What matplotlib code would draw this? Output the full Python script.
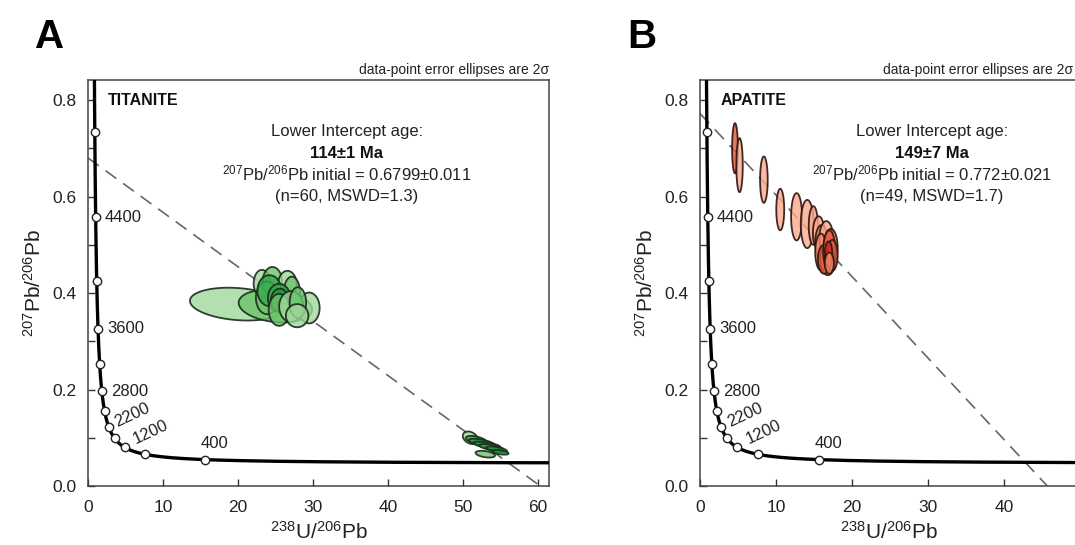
import numpy as np
import matplotlib
matplotlib.use("Agg")
import matplotlib.pyplot as plt
from matplotlib.patches import Polygon
from matplotlib.colors import to_rgba
from matplotlib.ticker import MultipleLocator

plt.rcParams['font.family'] = ['Liberation Sans', 'DejaVu Sans']
plt.rcParams['mathtext.fontset'] = 'custom'
plt.rcParams['mathtext.rm'] = 'Liberation Sans'
plt.rcParams['mathtext.it'] = 'Liberation Sans:italic'
plt.rcParams['mathtext.bf'] = 'Liberation Sans:bold'

# decay constants
L238 = 1.55125e-10
L235 = 9.8485e-10
U85 = 137.88

# concordia age marks (Ma)
marks = [400, 800, 1200, 1600, 2000, 2400, 2800, 3200, 3600, 4000, 4400, 4800]

# titanite ellipses: x, 2s-x, y, 2s-y, rho, shade
A_x = [20.0, 25.0, 29.5, 23.2, 24.6, 26.6, 27.2, 23.9, 24.2, 25.5, 25.6, 25.5, 27.1, 28.0, 27.9,
       51.0, 51.8, 52.5, 53.2, 53.8, 54.5, 53.0, 55.0]
A_sx = [6.4, 4.9, 1.4, 1.1, 1.3, 1.25, 1.1, 1.5, 1.6, 1.5, 1.2, 1.4, 1.6, 1.1, 1.5,
        1.0, 1.4, 1.7, 1.8, 1.6, 1.4, 1.3, 1.1]
A_y = [0.377, 0.373, 0.369, 0.420, 0.423, 0.417, 0.400, 0.390, 0.405, 0.390, 0.385, 0.365, 0.372, 0.380, 0.353,
       0.100, 0.095, 0.090, 0.085, 0.080, 0.076, 0.066, 0.070]
A_sy = [0.034, 0.034, 0.032, 0.028, 0.031, 0.029, 0.034, 0.034, 0.032, 0.029, 0.024, 0.033, 0.032, 0.032, 0.024,
        0.013, 0.009, 0.008, 0.007, 0.007, 0.006, 0.007, 0.005]
A_rho = [-0.2, -0.2, 0, 0, 0, 0, 0, 0, 0, 0, 0, 0, 0, 0, 0,
         -0.3, -0.5, -0.6, -0.6, -0.6, -0.6, -0.4, -0.5]
A_shade = [0, 1, 0, 0, 1, 0, 1, 1, 2, 2, 3, 1, 0, 1, 0,
           0, 2, 3, 3, 2, 3, 1, 3]

# apatite ellipses
B_x = [4.6, 5.2, 8.4, 10.55, 12.7, 14.1, 14.9, 15.6, 16.0, 16.6, 15.9, 16.8, 17.2, 16.3, 17.0, 17.4, 16.9, 17.0]
B_sx = [0.38, 0.42, 0.5, 0.52, 0.72, 0.85, 0.6, 0.75, 0.85, 0.9, 0.75, 1.0, 0.9, 0.8, 0.8, 0.7, 0.5, 0.6]
B_y = [0.700, 0.665, 0.635, 0.573, 0.558, 0.543, 0.540, 0.525, 0.505, 0.515, 0.485, 0.470, 0.495, 0.470, 0.488,
       0.478, 0.480, 0.462]
B_sy = [0.052, 0.056, 0.048, 0.043, 0.049, 0.050, 0.040, 0.034, 0.036, 0.034, 0.038, 0.033, 0.038, 0.030, 0.042,
        0.032, 0.027, 0.022]
B_rho = [0] * 18
B_shade = [2, 0, 0, 0, 0, 0, 0, 0, 1, 0, 1, 1, 1, 2, 2, 2, 3, 1]

green = ['#9fd99a', '#6cc46a', '#35a94a', '#179a3c']
red = ['#f9a98c', '#f58a68', '#e5553a', '#d2301e']


def concordia(t):
    t = np.asarray(t) * 1e6
    e8 = np.exp(L238 * t) - 1
    e5 = np.exp(L235 * t) - 1
    return 1 / e8, e5 / e8 / U85


def draw_ellipses(ax, xs, sxs, ys, sys_, rhos, shades, cols, edge):
    th = np.linspace(0, 2 * np.pi, 100)
    for x, sx, y, sy, r, s in zip(xs, sxs, ys, sys_, rhos, shades):
        px = x + sx * np.cos(th)
        py = y + sy * (r * np.cos(th) + np.sqrt(1 - r ** 2) * np.sin(th))
        ax.add_patch(Polygon(np.column_stack([px, py]), closed=True, facecolor=to_rgba(cols[s], 0.8),
                             edgecolor=to_rgba(edge, 0.9), lw=1.3, zorder=3))


def panel(ax, xmax, name, age, y0, age_txt, r0_txt, n_txt, xs, sxs, ys, sys_, rhos, shades, cols, edge, tx, note_x):
    # discordia
    ix, iy = concordia(age)
    slope = (iy - y0) / ix
    xe = -y0 / slope
    ax.plot([0, xe], [y0, 0], ls=(0, (8, 5)), color='#666666', lw=1.2, zorder=2)
    draw_ellipses(ax, xs, sxs, ys, sys_, rhos, shades, cols, edge)
    # concordia curve
    t = np.linspace(40, 5200, 2000)
    cx, cy = concordia(t)
    ax.plot(cx, cy, color='black', lw=2.4, zorder=4)
    mx, my = concordia(marks)
    ax.plot(mx, my, 'o', ms=6, mfc='white', mec='#222222', mew=1, zorder=5)
    for m in [4400, 3600, 2800]:
        a, b = concordia(m)
        ax.text(a + 1.2, b, str(m), fontsize=12, va='center', ha='left', color='#222222', zorder=6)
    ax.text(5.9, 0.147, '2200', fontsize=12, rotation=25, ha='center', va='center', color='#222222')
    ax.text(8.4, 0.112, '1200', fontsize=12, rotation=25, ha='center', va='center', color='#222222')
    ax.text(16.9, 0.088, '400', fontsize=12, ha='center', va='center', color='#222222')

    ax.set_xlim(0, xmax)
    ax.set_ylim(0, 0.8415)
    ax.xaxis.set_major_locator(MultipleLocator(10))
    ax.yaxis.set_major_locator(MultipleLocator(0.2))
    ax.yaxis.set_minor_locator(MultipleLocator(0.1))
    ax.yaxis.set_major_formatter(matplotlib.ticker.FormatStrFormatter('%.1f'))
    ax.tick_params(which='both', direction='in', length=5, width=1, labelsize=12.5,
                   colors='#333333', labelcolor='#222222')
    ax.tick_params(axis='x', pad=10)
    ax.tick_params(axis='y', pad=8)
    for sp in ax.spines.values():
        sp.set_color('#444444')
        sp.set_linewidth(1.1)
    ax.set_xlabel(r'$^{238}$U/$^{206}$Pb', fontsize=15, color='#222222', labelpad=4)
    ax.set_ylabel(r'$^{207}$Pb/$^{206}$Pb', fontsize=15, color='#222222', labelpad=6)

    ax.text(2.7, 0.80, name, fontsize=11.5, fontweight='bold', ha='left', va='center', color='#111111')
    ax.text(tx, 0.734, 'Lower Intercept age:', fontsize=12, ha='center', va='center', color='#222222')
    ax.text(tx, 0.690, age_txt, fontsize=12, fontweight='bold', ha='center', va='center', color='#111111')
    ax.text(tx, 0.647, r'$^{207}$Pb/$^{206}$Pb initial = ' + r0_txt, fontsize=12, ha='center', va='center',
            color='#222222')
    ax.text(tx, 0.601, n_txt, fontsize=12, ha='center', va='center', color='#222222')
    ax.text(note_x, 1.008, 'data-point error ellipses are 2σ', transform=ax.transAxes, fontsize=10,
            ha='right', va='bottom', color='#222222')


fig = plt.figure(figsize=(10.75, 5.45), dpi=100)
W, H = 1075, 545
axA = fig.add_axes([88 / W, (H - 486) / H, 461 / W, 406 / H])
axB = fig.add_axes([700 / W, (H - 486) / H, 378 / W, 406 / H])

panel(axA, 61.5, 'TITANITE', 114, 0.6799, '114±1 Ma', '0.6799±0.011', '(n=60, MSWD=1.3)',
      A_x, A_sx, A_y, A_sy, A_rho, A_shade, green, '#1c2a1c', 34.5, 1.0)
panel(axB, 49.7, 'APATITE', 149, 0.772, '149±7 Ma', '0.772±0.021', '(n=49, MSWD=1.7)',
      B_x, B_sx, B_y, B_sy, B_rho, B_shade, red, '#2b1510', 30.5, 373 / 378)

fig.text(35 / W, 1 - 37 / H, 'A', fontsize=29, fontweight='bold', va='center', ha='left')
fig.text(627 / W, 1 - 37 / H, 'B', fontsize=29, fontweight='bold', va='center', ha='left')

fig.savefig('out.png', dpi=100, facecolor='white')
